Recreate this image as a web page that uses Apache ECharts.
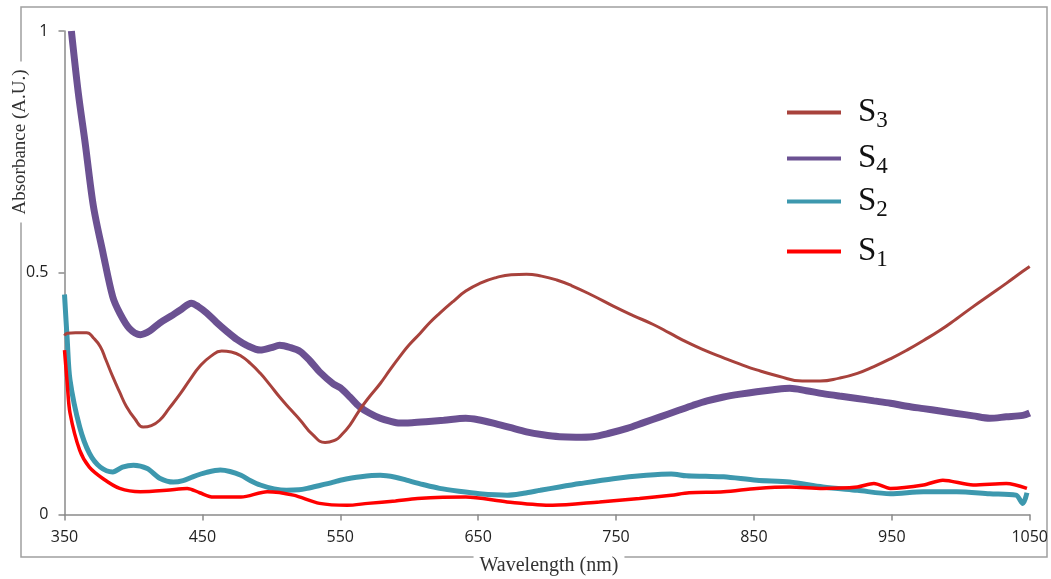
<!DOCTYPE html>
<html lang="en">
<head>
    <meta charset="UTF-8">
    <title>Absorbance spectra</title>
    <style>
        html, body { margin: 0; padding: 0; background: #fff; }
        #chart { width: 1051px; height: 579px; }
    </style>
</head>
<body>
    <div id="chart"></div>

<script type="text/javascript" src="https://cdn.jsdelivr.net/npm/echarts@6/dist/echarts.min.js"></script>
<script type="text/javascript">
    // x ticks (nm) and y ticks
    var xTicks = [350, 450, 550, 650, 750, 850, 950, 1050];
    var yTicks = [0, 0.5, 1];

    // S3 - smooth brown curve
    var s3Nm = [350, 352, 358, 366, 371, 376, 380, 385, 390, 395, 401, 407, 413, 419, 426, 434, 441, 448, 456, 464,
        471, 478, 485, 492, 499, 506, 514, 521, 530, 539, 547, 550, 557, 564, 571, 579, 586, 593, 600, 608,
        615, 622, 632, 641, 652, 663, 674, 685, 696, 707, 718, 733, 748, 762, 777, 789, 801, 814, 828, 840,
        852, 868, 885, 898, 912, 925, 937, 949, 961, 973, 985, 997, 1009, 1021, 1033, 1045, 1050];
    var s3Abs = [0.370, 0.375, 0.376, 0.376, 0.365, 0.347, 0.320, 0.285, 0.253, 0.223, 0.198, 0.181, 0.184, 0.195, 0.220, 0.250, 0.279, 0.306, 0.327, 0.338,
        0.336, 0.328, 0.312, 0.292, 0.268, 0.243, 0.217, 0.195, 0.165, 0.149, 0.155, 0.162, 0.185, 0.216, 0.243, 0.271, 0.299, 0.326, 0.351, 0.375,
        0.397, 0.416, 0.441, 0.462, 0.479, 0.490, 0.496, 0.497, 0.493, 0.485, 0.473, 0.453, 0.431, 0.412, 0.393, 0.375, 0.357, 0.340, 0.324, 0.311,
        0.299, 0.286, 0.276, 0.276, 0.282, 0.292, 0.306, 0.322, 0.340, 0.360, 0.381, 0.405, 0.430, 0.454, 0.478, 0.503, 0.513];

    // S4 - purple
    var s4Nm = [355, 360, 365, 371, 378, 385, 390, 397, 405, 412, 419, 427, 434, 442, 447, 453, 460, 468, 475, 482,
        492, 500, 506, 514, 521, 528, 535, 545, 550, 557, 564, 571, 579, 586, 593, 602, 612, 625, 641, 650,
        661, 673, 685, 697, 709, 721, 733, 745, 758, 770, 782, 794, 806, 816, 828, 840, 852, 864, 876, 888,
        900, 912, 925, 937, 949, 961, 973, 985, 997, 1009, 1021, 1033, 1045, 1050];
    var s4Abs = [1.000, 0.872, 0.768, 0.637, 0.540, 0.450, 0.417, 0.385, 0.372, 0.380, 0.396, 0.410, 0.423, 0.437, 0.430, 0.417, 0.398, 0.378, 0.362, 0.350,
        0.340, 0.345, 0.350, 0.345, 0.337, 0.318, 0.295, 0.270, 0.262, 0.243, 0.223, 0.210, 0.199, 0.193, 0.189, 0.190, 0.192, 0.195, 0.199, 0.196,
        0.189, 0.180, 0.171, 0.165, 0.161, 0.160, 0.161, 0.168, 0.178, 0.190, 0.202, 0.214, 0.226, 0.235, 0.243, 0.249, 0.254, 0.258, 0.261, 0.256,
        0.250, 0.245, 0.240, 0.235, 0.230, 0.224, 0.219, 0.214, 0.209, 0.204, 0.199, 0.202, 0.205, 0.210];

    // S2 - teal
    var s2Nm = [350, 352, 354, 361, 368, 376, 385, 392, 400, 410, 419, 429, 436, 443, 453, 463, 470, 478, 485, 492,
        502, 511, 520, 526, 535, 545, 550, 565, 579, 590, 598, 610, 622, 636, 651, 671, 683, 695, 709, 724,
        748, 772, 790, 801, 815, 828, 852, 876, 900, 925, 949, 973, 997, 1021, 1040, 1045, 1048];
    var s2Abs = [0.455, 0.360, 0.278, 0.181, 0.127, 0.098, 0.088, 0.098, 0.102, 0.095, 0.075, 0.067, 0.070, 0.078, 0.087, 0.092, 0.089, 0.081, 0.070, 0.061,
        0.053, 0.050, 0.051, 0.054, 0.060, 0.067, 0.071, 0.078, 0.081, 0.077, 0.071, 0.062, 0.054, 0.048, 0.043, 0.040, 0.044, 0.050, 0.057, 0.064,
        0.074, 0.081, 0.084, 0.080, 0.079, 0.078, 0.071, 0.067, 0.057, 0.050, 0.043, 0.047, 0.047, 0.043, 0.040, 0.023, 0.045];

    // S1 - red
    var s1Nm = [350, 352, 354, 361, 368, 378, 390, 405, 424, 439, 448, 458, 478, 497, 516, 535, 555, 570, 590, 606,
        641, 671, 704, 738, 767, 790, 803, 828, 852, 876, 900, 925, 937, 949, 973, 987, 1009, 1033, 1048];
    var s1Abs = [0.340, 0.270, 0.210, 0.133, 0.098, 0.074, 0.054, 0.047, 0.050, 0.054, 0.045, 0.036, 0.036, 0.047, 0.040, 0.023, 0.019, 0.023, 0.028, 0.033,
        0.036, 0.026, 0.019, 0.026, 0.033, 0.040, 0.045, 0.047, 0.054, 0.057, 0.054, 0.057, 0.064, 0.054, 0.061, 0.071, 0.061, 0.064, 0.054];

    var x0 = xTicks[0]; // axis counts from 0, labels add the offset back

    function pairs(nm, abs) {
        var out = [];
        for (var i = 0; i < nm.length; i++) {
            out.push([nm[i] - x0, abs[i]]);
        }
        return out;
    }

    var myChart = echarts.init(document.getElementById('chart'));

    var serifFont = '"Liberation Serif", "Times New Roman", serif';
    var tickFont = '"Open Sans", sans-serif';

    // one legend box per entry, spacing is uneven in the original
    var legendTops = [96, 142, 185, 235];
    var legendNames = ['S3', 'S4', 'S2', 'S1'];
    var legends = [];
    for (var i = 0; i < legendNames.length; i++) {
        legends.push({
            data: [legendNames[i]],
            left: 787,
            top: legendTops[i],
            padding: 0,
            icon: 'rect',
            itemWidth: 54,
            itemHeight: 4,
            selectedMode: false,
            formatter: function(name) {
                return '{m|' + name.charAt(0) + '}{s|' + name.slice(1) + '}';
            },
            textStyle: {
                padding: [0, 0, 0, 12],
                rich: {
                    m: { fontFamily: serifFont, fontSize: 33, color: '#111' },
                    s: { fontFamily: serifFont, fontSize: 23, color: '#111', padding: [16, 0, 0, 0] }
                }
            }
        });
    }

    var option = {
        animation: false,
        backgroundColor: '#fff',
        grid: {
            left: 64.5,
            right: 21,
            top: 31,
            bottom: 64.5
        },
        legend: legends,
        xAxis: {
            type: 'value',
            min: 0,
            max: xTicks[xTicks.length - 1] - x0,
            interval: xTicks[1] - xTicks[0],
            splitLine: { show: false },
            axisLine: { onZero: false, lineStyle: { color: '#8a8a8a', width: 1.5 } },
            axisTick: { show: true, length: 6, lineStyle: { color: '#8a8a8a', width: 1.5 } },
            axisLabel: {
                margin: 15,
                color: '#222',
                fontFamily: tickFont,
                fontSize: 16,
                formatter: function(v) { return String(v + x0); }
            }
        },
        yAxis: {
            type: 'value',
            min: yTicks[0],
            max: yTicks[yTicks.length - 1],
            interval: yTicks[1] - yTicks[0],
            splitLine: { show: false },
            axisLine: { show: true, lineStyle: { color: '#8a8a8a', width: 1.5 } },
            axisTick: { show: true, length: 6, lineStyle: { color: '#8a8a8a', width: 1.5 } },
            axisLabel: {
                margin: 16,
                color: '#222',
                fontFamily: tickFont,
                fontSize: 16
            }
        },
        series: [{
            name: 'S3',
            type: 'line',
            data: pairs(s3Nm, s3Abs),
            showSymbol: false,
            smooth: 0.5,
            color: '#a8423c',
            lineStyle: { width: 3 },
            z: 5
        }, {
            name: 'S4',
            type: 'line',
            data: pairs(s4Nm, s4Abs),
            showSymbol: false,
            smooth: 0.3,
            color: '#6b5192',
            lineStyle: { width: 7 },
            z: 2
        }, {
            name: 'S2',
            type: 'line',
            data: pairs(s2Nm, s2Abs),
            showSymbol: false,
            smooth: 0.3,
            color: '#3d98ae',
            lineStyle: { width: 5 },
            z: 3
        }, {
            name: 'S1',
            type: 'line',
            data: pairs(s1Nm, s1Abs),
            showSymbol: false,
            smooth: 0.3,
            color: '#ff0000',
            lineStyle: { width: 3.5 },
            z: 4
        }],
        // outer frame and axis titles
        graphic: [{
            type: 'rect',
            silent: true,
            z: -10,
            shape: { x: 21, y: 7, width: 1026, height: 550 },
            style: { fill: 'none', stroke: '#a0a0a0', lineWidth: 1.5 }
        }, {
            type: 'text',
            silent: true,
            x: 20,
            y: 142,
            rotation: Math.PI / 2,
            style: {
                text: 'Absorbance (A.U.)',
                font: '19px ' + serifFont,
                fill: '#333',
                align: 'center',
                verticalAlign: 'middle',
                backgroundColor: '#fff',
                padding: [2, 8]
            }
        }, {
            type: 'text',
            silent: true,
            x: 549,
            y: 566,
            style: {
                text: 'Wavelength (nm)',
                font: '20px ' + serifFont,
                fill: '#333',
                align: 'center',
                verticalAlign: 'middle',
                backgroundColor: '#fff',
                padding: [0, 6]
            }
        }]
    };

    myChart.setOption(option);
</script>
</body>
</html>
